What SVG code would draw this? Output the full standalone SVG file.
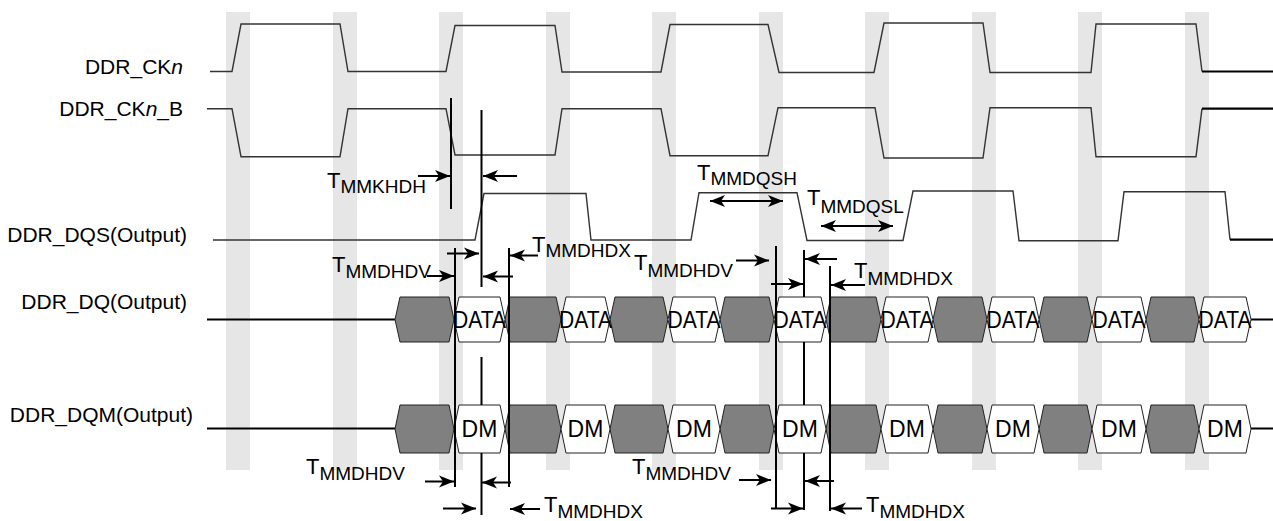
<svg xmlns="http://www.w3.org/2000/svg" width="1273" height="521" viewBox="0 0 1273 521">
<style>
.band{fill:#e6e6e6}
.sig{fill:none;stroke:#333;stroke-width:1.4;stroke-linejoin:miter}
.tail{fill:none;stroke:#000;stroke-width:2.2}
.g{fill:#808080;stroke:#222;stroke-width:1}
.w{fill:#fff;stroke:#222;stroke-width:1}
.name{font-family:"Liberation Sans",Arial,sans-serif;font-size:21px;fill:#000;text-anchor:end}
.cell{font-family:"Liberation Sans",Arial,sans-serif;font-size:23px;fill:#000;text-anchor:middle}
.lbl{font-family:"Liberation Sans",Arial,sans-serif;font-size:22px;fill:#000}
.sub{font-size:19px}
.tl{stroke:#000;stroke-width:2;fill:none}
.ar{stroke:#000;stroke-width:2;fill:none;marker-end:url(#ah)}
.dar{stroke:#000;stroke-width:2;fill:none;marker-end:url(#ah);marker-start:url(#ah)}
</style>
<defs>
<marker id="ah" markerWidth="16" markerHeight="13" refX="15" refY="6.5" orient="auto-start-reverse" markerUnits="userSpaceOnUse">
<path d="M0,0.5 L15,6.5 L0,12.5 L4,6.5 Z" fill="#000"/>
</marker>
</defs>
<rect width="1273" height="521" fill="#fff"/>
<g id="bands">
<rect class="band" x="226" y="12" width="24" height="458"/>
<rect class="band" x="333" y="12" width="24" height="458"/>
<rect class="band" x="439" y="12" width="24" height="458"/>
<rect class="band" x="546" y="12" width="24" height="458"/>
<rect class="band" x="652" y="12" width="24" height="458"/>
<rect class="band" x="759" y="12" width="24" height="458"/>
<rect class="band" x="865" y="12" width="24" height="458"/>
<rect class="band" x="972" y="12" width="24" height="458"/>
<rect class="band" x="1078" y="12" width="24" height="458"/>
<rect class="band" x="1185" y="12" width="24" height="458"/>
</g>
<g id="ckn">
<text class="name" x="183" y="74">DDR_CK<tspan font-style="italic">n</tspan></text>
<path class="sig" d="M210,71.5 L232,71.5 L241,24 L340,24 L348,71.5 L446,71.5 L455,25.5 L555,25.5 L562,72 L661,72 L670,24.5 L768,24.5 L779,72.5 L874,72.5 L884,23 L983,23 L990,72.5 L1091,72.5 L1096,24 L1196,24 L1202,71.5"/>
<path class="tail" d="M1202,71.5 L1273,71.5"/>
</g>
<g id="ckn_b">
<text class="name" x="183" y="116">DDR_CK<tspan font-style="italic">n</tspan>_B</text>
<path class="sig" d="M207,108.7 L232,108.7 L241,156.7 L340,156.7 L348,108.7 L446,108.7 L455,155 L555,155 L562,108.7 L661,108.7 L670,155.7 L768,155.7 L778,107.7 L875,107.7 L884,158 L983,158 L990,107.7 L1091,107.7 L1096,156.7 L1196,156.7 L1202,108.7"/>
<path class="tail" d="M1202,108.7 L1273,108.7"/>
</g>
<g id="dqs">
<text class="name" x="187" y="242">DDR_DQS(Output)</text>
<path class="sig" d="M213,240 L475,240 L484,193.5 L586,193.5 L591,240 L691,240 L699,192.7 L797,192.7 L807,240.5 L903,240.5 L913,191 L1013,191 L1019,240.7 L1118,240.7 L1124,191.7 L1225,191.7 L1230,239.7"/>
<path class="tail" d="M1230,239.7 L1273,239.7"/>
</g>
<g id="dq">
<text class="name" x="187" y="309">DDR_DQ(Output)</text>
<path class="tail" d="M207,319.5 L395,319.5 M1251,319.5 L1273,319.5"/>
<polygon class="g" points="400,297 449,297 454,319.5 449,342 400,342 395,319.5"/>
<polygon class="g" points="510,297 556,297 561,319.5 556,342 510,342 505,319.5"/>
<polygon class="g" points="615,297 663,297 668,319.5 663,342 615,342 610,319.5"/>
<polygon class="g" points="725,297 769,297 774,319.5 769,342 725,342 720,319.5"/>
<polygon class="g" points="831,297 876,297 881,319.5 876,342 831,342 826,319.5"/>
<polygon class="g" points="938,297 982,297 987,319.5 982,342 938,342 933,319.5"/>
<polygon class="g" points="1044,297 1087,297 1092,319.5 1087,342 1044,342 1039,319.5"/>
<polygon class="g" points="1151,297 1194,297 1199,319.5 1194,342 1151,342 1146,319.5"/>
<polygon class="w" points="459,297 500,297 505,319.5 500,342 459,342 454,319.5"/>
<polygon class="w" points="566,297 605,297 610,319.5 605,342 566,342 561,319.5"/>
<polygon class="w" points="673,297 715,297 720,319.5 715,342 673,342 668,319.5"/>
<polygon class="w" points="779,297 821,297 826,319.5 821,342 779,342 774,319.5"/>
<polygon class="w" points="886,297 928,297 933,319.5 928,342 886,342 881,319.5"/>
<polygon class="w" points="992,297 1034,297 1039,319.5 1034,342 992,342 987,319.5"/>
<polygon class="w" points="1097,297 1141,297 1146,319.5 1141,342 1097,342 1092,319.5"/>
<polygon class="w" points="1204,297 1246,297 1251,319.5 1246,342 1204,342 1199,319.5"/>
<text class="cell" x="479.5" y="327.5" textLength="53" lengthAdjust="spacingAndGlyphs">DATA</text>
<text class="cell" x="585.5" y="327.5" textLength="53" lengthAdjust="spacingAndGlyphs">DATA</text>
<text class="cell" x="694" y="327.5" textLength="53" lengthAdjust="spacingAndGlyphs">DATA</text>
<text class="cell" x="800" y="327.5" textLength="53" lengthAdjust="spacingAndGlyphs">DATA</text>
<text class="cell" x="907" y="327.5" textLength="53" lengthAdjust="spacingAndGlyphs">DATA</text>
<text class="cell" x="1013" y="327.5" textLength="53" lengthAdjust="spacingAndGlyphs">DATA</text>
<text class="cell" x="1119" y="327.5" textLength="53" lengthAdjust="spacingAndGlyphs">DATA</text>
<text class="cell" x="1225" y="327.5" textLength="53" lengthAdjust="spacingAndGlyphs">DATA</text>
</g>
<g id="dqm">
<text class="name" x="193" y="422">DDR_DQM(Output)</text>
<path class="tail" d="M207,428.5 L395,428.5 M1251,428.5 L1273,428.5"/>
<polygon class="g" points="400,405 449,405 454,429 449,453 400,453 395,429"/>
<polygon class="g" points="510,405 556,405 561,429 556,453 510,453 505,429"/>
<polygon class="g" points="615,405 663,405 668,429 663,453 615,453 610,429"/>
<polygon class="g" points="725,405 769,405 774,429 769,453 725,453 720,429"/>
<polygon class="g" points="831,405 876,405 881,429 876,453 831,453 826,429"/>
<polygon class="g" points="938,405 982,405 987,429 982,453 938,453 933,429"/>
<polygon class="g" points="1044,405 1087,405 1092,429 1087,453 1044,453 1039,429"/>
<polygon class="g" points="1151,405 1194,405 1199,429 1194,453 1151,453 1146,429"/>
<polygon class="w" points="459,405 500,405 505,429 500,453 459,453 454,429"/>
<polygon class="w" points="566,405 605,405 610,429 605,453 566,453 561,429"/>
<polygon class="w" points="673,405 715,405 720,429 715,453 673,453 668,429"/>
<polygon class="w" points="779,405 821,405 826,429 821,453 779,453 774,429"/>
<polygon class="w" points="886,405 928,405 933,429 928,453 886,453 881,429"/>
<polygon class="w" points="992,405 1034,405 1039,429 1034,453 992,453 987,429"/>
<polygon class="w" points="1097,405 1141,405 1146,429 1141,453 1097,453 1092,429"/>
<polygon class="w" points="1204,405 1246,405 1251,429 1246,453 1204,453 1199,429"/>
<text class="cell" x="479.5" y="437">DM</text>
<text class="cell" x="585.5" y="437">DM</text>
<text class="cell" x="694" y="437">DM</text>
<text class="cell" x="800" y="437">DM</text>
<text class="cell" x="907" y="437">DM</text>
<text class="cell" x="1013" y="437">DM</text>
<text class="cell" x="1119" y="437">DM</text>
<text class="cell" x="1225" y="437">DM</text>
</g>
<g id="connectors">
<path class="tl" d="M451,98 L451,209"/>
<path class="tl" d="M481.5,110 L481.5,287 M481.5,357 L481.5,405 M481.5,453 L481.5,515"/>
<path class="tl" d="M455,248 L455,487"/>
<path class="tl" d="M509,248 L509,487"/>
<path class="tl" d="M776,246 L776,509"/>
<path class="tl" d="M804,250 L804,297 M804,342 L804,405 M804,453 L804,510"/>
<path class="tl" d="M830,266 L830,511"/>
<line class="ar" x1="418" y1="176" x2="450" y2="176"/>
<line class="ar" x1="517" y1="176" x2="483" y2="176"/>
<line class="ar" x1="447" y1="253.5" x2="479" y2="253.5"/>
<line class="ar" x1="427" y1="276" x2="454" y2="276"/>
<line class="ar" x1="513" y1="276.5" x2="483" y2="276.5"/>
<line class="ar" x1="538" y1="255.5" x2="510" y2="255.5"/>
<line class="dar" x1="710" y1="201" x2="783" y2="201"/>
<line class="dar" x1="821" y1="226" x2="893" y2="226"/>
<line class="ar" x1="736" y1="260.5" x2="769" y2="260.5"/>
<line class="ar" x1="771" y1="284" x2="803" y2="284"/>
<line class="ar" x1="837" y1="259" x2="805" y2="259"/>
<line class="ar" x1="865" y1="285" x2="831" y2="285"/>
<line class="ar" x1="425" y1="481.5" x2="454" y2="481.5"/>
<line class="ar" x1="511" y1="482.5" x2="482" y2="482.5"/>
<line class="ar" x1="443" y1="508.5" x2="476" y2="508.5"/>
<line class="ar" x1="540" y1="509" x2="510" y2="509"/>
<line class="ar" x1="739" y1="480" x2="771" y2="480"/>
<line class="ar" x1="834" y1="481" x2="805" y2="481"/>
<line class="ar" x1="771" y1="508.5" x2="803" y2="508.5"/>
<line class="ar" x1="862" y1="508.5" x2="831" y2="508.5"/>
</g>
<g id="timing-labels">
<text class="lbl" x="327" y="188">T<tspan class="sub" dy="5">MMKHDH</tspan></text>
<text class="lbl" x="532" y="251.5">T<tspan class="sub" dy="5.5">MMDHDX</tspan></text>
<text class="lbl" x="332" y="272">T<tspan class="sub" dy="6">MMDHDV</tspan></text>
<text class="lbl" x="697" y="180">T<tspan class="sub" dy="5">MMDQSH</tspan></text>
<text class="lbl" x="807" y="205">T<tspan class="sub" dy="8">MMDQSL</tspan></text>
<text class="lbl" x="634" y="270">T<tspan class="sub" dy="7">MMDHDV</tspan></text>
<text class="lbl" x="854" y="278">T<tspan class="sub" dy="7">MMDHDX</tspan></text>
<text class="lbl" x="306" y="474">T<tspan class="sub" dy="6">MMDHDV</tspan></text>
<text class="lbl" x="544" y="511.5">T<tspan class="sub" dy="6">MMDHDX</tspan></text>
<text class="lbl" x="632" y="474">T<tspan class="sub" dy="6">MMDHDV</tspan></text>
<text class="lbl" x="866" y="511.5">T<tspan class="sub" dy="6">MMDHDX</tspan></text>
</g>
</svg>
